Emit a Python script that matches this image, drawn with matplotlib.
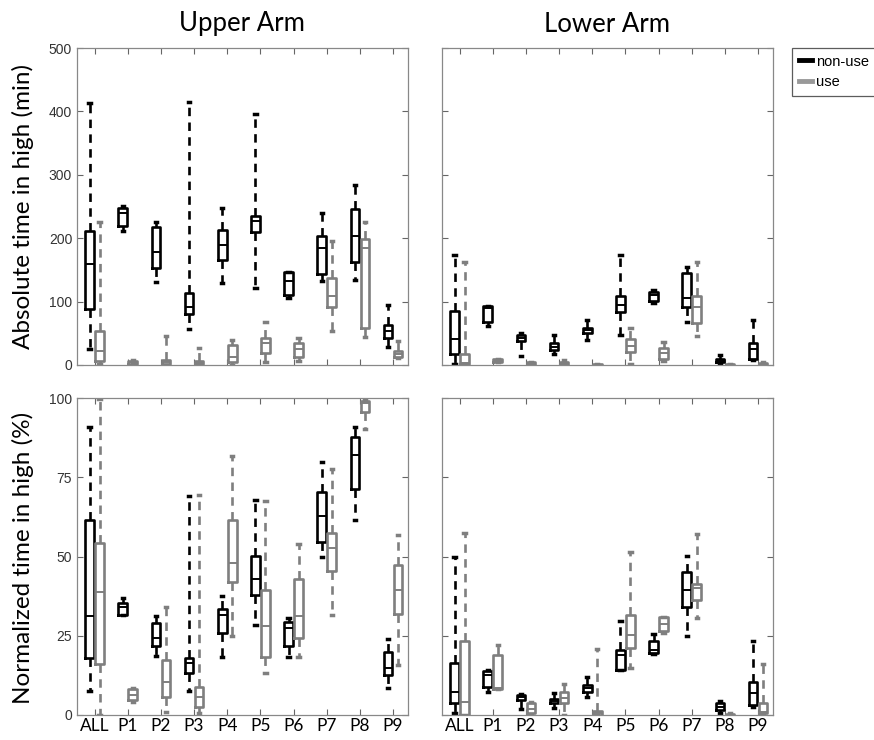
import numpy as np
import matplotlib
matplotlib.use("Agg")
import matplotlib.pyplot as plt
from matplotlib.lines import Line2D

plt.rcParams["font.family"] = ["Liberation Sans", "DejaVu Sans"]

cats = ["ALL", "P1", "P2", "P3", "P4", "P5", "P6", "P7", "P8", "P9"]

# each box: (whislo, q1, med, q3, whishi)
upper_abs_nonuse = [(26, 88, 160, 212, 413), (211, 219, 240, 248, 250), (131, 153, 179, 218, 226),
                    (57, 80, 92, 114, 415), (129, 166, 189, 213, 247), (121, 209, 227, 235, 396),
                    (105, 111, 132, 147, 147), (133, 143, 184, 204, 240), (134, 163, 204, 246, 284),
                    (29, 43, 53, 63, 94)]
upper_abs_use = [(1, 6, 22, 53, 226), (1, 2, 5, 7, 8), (0, 1, 4, 8, 46), (0, 1, 3, 6, 27),
                 (0, 4, 12, 31, 40), (5, 19, 35, 43, 68), (6, 12, 25, 34, 43), (54, 91, 109, 138, 195),
                 (44, 59, 184, 198, 226), (11, 13, 18, 22, 38)]
upper_norm_nonuse = [(7.7, 17.9, 31.3, 61.4, 90.8), (31.6, 31.6, 34.0, 35.3, 36.8), (18.6, 21.8, 24.4, 28.9, 31.3),
                     (7.7, 13.4, 16.5, 17.9, 69.0), (18.2, 25.8, 31.6, 33.4, 37.6), (28.4, 37.7, 42.8, 50.2, 67.9),
                     (18.4, 21.8, 27.4, 29.2, 30.5), (49.8, 54.7, 62.8, 70.5, 79.8), (61.4, 71.4, 82.1, 87.7, 91.0),
                     (8.4, 12.6, 14.7, 20.0, 23.9)]
upper_norm_use = [(0.0, 16.1, 38.9, 54.4, 99.7), (4.2, 4.7, 6.3, 8.1, 8.4), (1.0, 5.8, 10.5, 17.2, 34.0),
                  (0.5, 2.6, 5.8, 8.9, 69.3), (24.9, 42.1, 48.1, 61.6, 81.8), (13.4, 18.2, 28.1, 39.3, 67.4),
                  (18.2, 24.2, 31.3, 42.8, 54.0), (31.6, 45.3, 52.6, 57.4, 77.6), (90.2, 95.5, 98.4, 98.9, 99.7),
                  (15.8, 31.9, 39.3, 47.4, 56.8)]
lower_abs_nonuse = [(1, 17, 41, 85, 173), (62, 68, 90, 93, 93), (14, 38, 43, 48, 50), (17, 24, 29, 34, 48),
                    (39, 50, 55, 59, 71), (48, 84, 95, 109, 173), (98, 101, 110, 115, 118), (68, 91, 106, 145, 155),
                    (1, 4, 7, 10, 16), (8, 10, 26, 35, 71)]
lower_abs_use = [(1, 1, 3, 18, 163), (4, 4, 6, 10, 10), (0, 0, 2, 4, 5), (0, 0, 3, 5, 8), (0, 0, 0.5, 1, 2),
                 (1, 21, 30, 41, 59), (6, 9, 19, 27, 36), (45, 67, 91, 109, 163), (0, 0, 0, 1, 1), (0, 0, 1, 3, 4)]
lower_norm_nonuse = [(0.5, 3.7, 7.1, 16.3, 50.0), (7.4, 8.9, 12.6, 14.0, 14.2), (1.8, 4.7, 5.6, 6.3, 6.6),
                     (2.1, 3.7, 4.4, 5.0, 6.8), (5.6, 7.1, 8.4, 9.5, 12.1), (14.2, 14.2, 18.9, 20.5, 29.8),
                     (19.3, 19.5, 20.5, 23.2, 25.6), (24.9, 34.0, 39.3, 45.1, 50.2), (0.5, 1.6, 2.6, 3.7, 4.5),
                     (2.4, 3.2, 6.8, 10.5, 23.2)]
lower_norm_use = [(0.0, 0.0, 4.2, 23.2, 57.4), (8.1, 8.1, 8.4, 18.9, 22.1), (0.0, 0.5, 1.8, 3.7, 4.2),
                  (0.0, 3.7, 5.3, 7.1, 9.7), (0.0, 0.0, 0.5, 1.4, 20.7), (14.7, 21.1, 25.3, 31.6, 51.3),
                  (25.8, 26.6, 28.7, 30.8, 31.0), (30.5, 36.3, 40.0, 41.3, 57.2), (0.0, 0.0, 0.0, 0.3, 0.5),
                  (0.0, 0.5, 1.1, 3.7, 16.1)]

BLACK = "#000000"
GRAY = "#7f7f7f"


def stats(rows):
    return [dict(whislo=r[0], q1=r[1], med=r[2], q3=r[3], whishi=r[4], fliers=[]) for r in rows]


def draw(ax, rows, offset, color):
    pos = np.arange(1, len(cats) + 1) + offset
    ax.bxp(stats(rows), positions=pos, widths=0.26, capwidths=0.07, showfliers=False,
           manage_ticks=False, patch_artist=False,
           boxprops=dict(color=color, lw=1.9),
           medianprops=dict(color=color, lw=1.4),
           whiskerprops=dict(color=color, lw=1.9, ls=(0, (3.2, 2.4))),
           capprops=dict(color=color, lw=2.5))


fig = plt.figure(figsize=(8.74, 7.4), dpi=100)
W, H = 874, 740
lefts = [77 / W, 442 / W]
bottoms = [(H - 365) / H, (H - 715) / H]
aw, ah = 331 / W, 317 / H

panels = [
    [(upper_abs_nonuse, upper_abs_use, 500, 100), (lower_abs_nonuse, lower_abs_use, 500, 100)],
    [(upper_norm_nonuse, upper_norm_use, 100, 25), (lower_norm_nonuse, lower_norm_use, 100, 25)],
]

for r in range(2):
    for c in range(2):
        nu, us, ymax, step = panels[r][c]
        ax = fig.add_axes([lefts[c], bottoms[r], aw, ah])
        draw(ax, nu, -0.15, BLACK)
        draw(ax, us, 0.15, GRAY)
        ax.set_xlim(0.47, 10.45)
        ax.set_ylim(0, ymax)
        ax.set_yticks(np.arange(0, ymax + 1, step))
        ax.set_xticks(np.arange(1, 11))
        ax.tick_params(direction="in", top=True, right=True, length=4, width=0.8, color="#666666",
                       labelsize=10, labelcolor="#333333")
        for s in ax.spines.values():
            s.set_color("#888888")
            s.set_linewidth(0.9)
        if c == 1:
            ax.set_yticklabels([])
        if r == 0:
            ax.set_xticklabels([])
        else:
            ax.set_xticklabels(cats, fontsize=12.5, family="Lato", color="black")
            ax.tick_params(axis="x", pad=2)

fig.text(242 / W, 1 - 24 / H, "Upper Arm", ha="center", va="center", fontsize=18.5, family="Lato")
fig.text(607 / W, 1 - 24 / H, "Lower Arm", ha="center", va="center", fontsize=18.5, family="Lato")
fig.text(23 / W, 1 - 207 / H, "Absolute time in high (min)", rotation=90, ha="center", va="center",
         fontsize=17.5, family="Lato")
fig.text(23 / W, 1 - 558 / H, "Normalized time in high (%)", rotation=90, ha="center", va="center",
         fontsize=17.5, family="Lato")

handles = [Line2D([], [], color=BLACK, lw=3.5), Line2D([], [], color="#999999", lw=3.5)]
leg = fig.legend(handles, ["non-use", "use"], loc="upper left", bbox_to_anchor=(792 / W, 1 - 48 / H),
                 borderaxespad=0, frameon=True, fancybox=False, edgecolor="#333333",
                 handlelength=0.9, handletextpad=0.3, borderpad=0.45, labelspacing=0.45,
                 prop=dict(family="Liberation Sans", size=10.5))
leg.get_frame().set_linewidth(0.9)

fig.savefig("out.png", dpi=100)
